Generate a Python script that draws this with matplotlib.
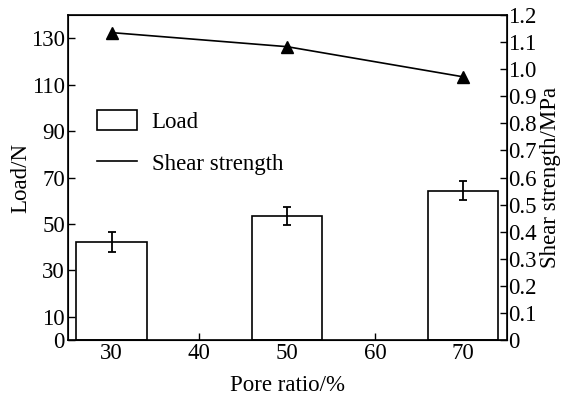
import matplotlib
matplotlib.use("Agg")
import matplotlib.pyplot as plt
from matplotlib.patches import Patch
from matplotlib.lines import Line2D

pore_ratio = [30, 50, 70]
load = [42.2, 53.5, 64.4]
load_err = [4.2, 4.0, 4.0]
shear_strength = [1.135, 1.083, 0.972]
left_ticks = [0, 10, 30, 50, 70, 90, 110, 130]
right_ticks = [0, 0.1, 0.2, 0.3, 0.4, 0.5, 0.6, 0.7, 0.8, 0.9, 1.0, 1.1, 1.2]
right_labels = ["0", "0.1", "0.2", "0.3", "0.4", "0.5", "0.6", "0.7", "0.8", "0.9", "1.0", "1.1", "1.2"]
x_ticks = [30, 40, 50, 60, 70]

plt.rcParams['font.family'] = ['Liberation Serif', 'DejaVu Serif']
plt.rcParams['font.size'] = 16.5
plt.rcParams['mathtext.fontset'] = 'stix'

fig = plt.figure(figsize=(5.64, 4.01), dpi=100)
ax = fig.add_axes([0.12, 0.152, 0.7784, 0.8106])

ax.bar(pore_ratio, load, width=8, facecolor='white', edgecolor='black', linewidth=1.2, zorder=2)
ax.errorbar(pore_ratio, load, yerr=load_err, fmt='none', ecolor='black', elinewidth=1.3,
            capsize=2.6, capthick=1.3, zorder=3)
ax.set_xlim(25, 75)
ax.set_ylim(0, 140)
ax.set_xticks(x_ticks)
ax.set_yticks(left_ticks)
ax.set_xlabel('Pore ratio/%', labelpad=8)
ax.set_ylabel('Load/N', labelpad=0)
ax.tick_params(direction='in', length=5, width=1, pad=2)
for s in ax.spines.values():
    s.set_linewidth(1.2)

ax2 = ax.twinx()
ax2.plot(pore_ratio, shear_strength, color='black', linewidth=1.2, marker='^',
         markersize=8, zorder=4)
ax2.set_ylim(0, 1.2)
ax2.set_yticks(right_ticks)
ax2.set_yticklabels(right_labels)
ax2.set_ylabel('Shear strength/MPa', labelpad=2.5)
ax2.tick_params(direction='in', length=5, width=1, pad=1)

handles = [Patch(facecolor='white', edgecolor='black', linewidth=1.2, label='Load'),
           Line2D([], [], color='black', linewidth=1.2, label='Shear strength')]
ax.legend(handles=handles, loc='upper left', bbox_to_anchor=(0.066, 0.708), frameon=False,
          handlelength=1.75, handleheight=0.95, handletextpad=0.65, labelspacing=0.85,
          borderaxespad=0, borderpad=0)

fig.savefig('out.png', dpi=100)
